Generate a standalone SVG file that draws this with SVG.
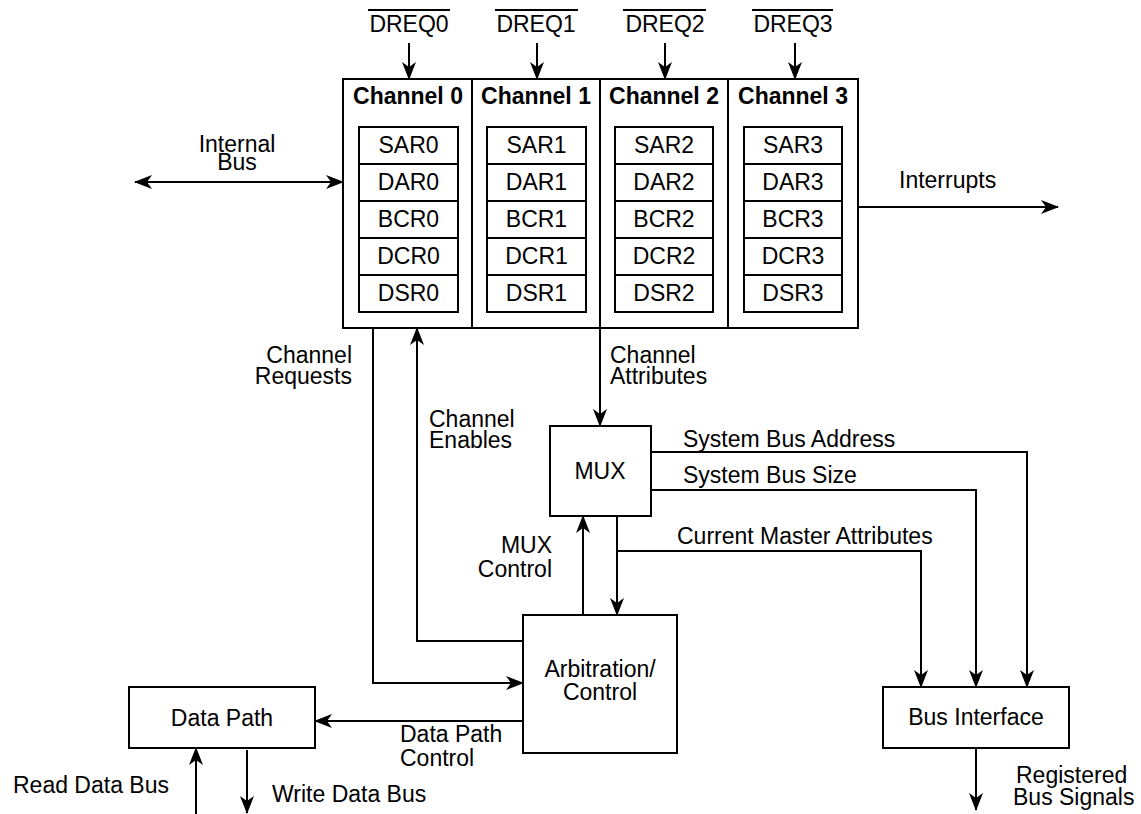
<svg xmlns="http://www.w3.org/2000/svg" width="1141" height="814" viewBox="0 0 1141 814">
<style>
text{font-family:"Liberation Sans",Arial,sans-serif;font-size:23px;fill:#000}
.b{font-weight:bold}
.c{text-anchor:middle}
.r{text-anchor:end}
.box{fill:#fff;stroke:#000;stroke-width:2}
.ln{fill:none;stroke:#000;stroke-width:2}
.w{stroke:#000;stroke-width:2;fill:none}
.a{marker-end:url(#ah)}
</style>
<defs>
<marker id="ah" viewBox="-20 -10 22 20" markerWidth="22" markerHeight="20" refX="0" refY="0" orient="auto-start-reverse" markerUnits="userSpaceOnUse">
<path d="M1,0 L-17,-7 L-12,0 L-17,7 Z" fill="#000"/>
</marker>
</defs>
<rect width="1141" height="814" fill="#fff"/>

<g id="channels">
<rect class="box" x="343" y="79" width="515" height="249"/>
<line class="w" x1="472" y1="79" x2="472" y2="328"/>
<line class="w" x1="600" y1="79" x2="600" y2="328"/>
<line class="w" x1="728" y1="79" x2="728" y2="328"/>
</g>

<g id="channel0">
<text class="b c" x="408" y="104">Channel 0</text>
<rect class="box" x="359" y="127" width="99" height="185"/>
<path class="ln" d="M359,164H458M359,201H458M359,238H458M359,275H458"/>
<text class="c" x="408.5" y="153">SAR0</text>
<text class="c" x="408.5" y="190">DAR0</text>
<text class="c" x="408.5" y="227">BCR0</text>
<text class="c" x="408.5" y="264">DCR0</text>
<text class="c" x="408.5" y="301">DSR0</text>
</g>
<g id="channel1">
<text class="b c" x="536" y="104">Channel 1</text>
<rect class="box" x="487" y="127" width="99" height="185"/>
<path class="ln" d="M487,164H586M487,201H586M487,238H586M487,275H586"/>
<text class="c" x="536.5" y="153">SAR1</text>
<text class="c" x="536.5" y="190">DAR1</text>
<text class="c" x="536.5" y="227">BCR1</text>
<text class="c" x="536.5" y="264">DCR1</text>
<text class="c" x="536.5" y="301">DSR1</text>
</g>
<g id="channel2">
<text class="b c" x="664" y="104">Channel 2</text>
<rect class="box" x="615" y="127" width="98" height="185"/>
<path class="ln" d="M615,164H713M615,201H713M615,238H713M615,275H713"/>
<text class="c" x="664" y="153">SAR2</text>
<text class="c" x="664" y="190">DAR2</text>
<text class="c" x="664" y="227">BCR2</text>
<text class="c" x="664" y="264">DCR2</text>
<text class="c" x="664" y="301">DSR2</text>
</g>
<g id="channel3">
<text class="b c" x="793" y="104">Channel 3</text>
<rect class="box" x="744" y="127" width="98" height="185"/>
<path class="ln" d="M744,164H842M744,201H842M744,238H842M744,275H842"/>
<text class="c" x="793" y="153">SAR3</text>
<text class="c" x="793" y="190">DAR3</text>
<text class="c" x="793" y="227">BCR3</text>
<text class="c" x="793" y="264">DCR3</text>
<text class="c" x="793" y="301">DSR3</text>
</g>

<g id="mux">
<rect class="box" x="550" y="426" width="101" height="90"/>
<text class="c" x="600" y="479">MUX</text>
</g>
<g id="arbitration">
<rect class="box" x="523" y="615" width="154" height="138"/>
<text class="c" x="600" y="677">Arbitration/</text>
<text class="c" x="600" y="700">Control</text>
</g>
<g id="datapath">
<rect class="box" x="129" y="687" width="186" height="61"/>
<text class="c" x="222" y="726">Data Path</text>
</g>
<g id="businterface">
<rect class="box" x="883" y="687" width="186" height="61"/>
<text class="c" x="976" y="725">Bus Interface</text>
</g>

<g id="connectors">
<line class="w a" x1="409" y1="43" x2="409" y2="79"/>
<line class="w a" x1="537" y1="43" x2="537" y2="79"/>
<line class="w a" x1="665" y1="43" x2="665" y2="79"/>
<line class="w a" x1="795" y1="43" x2="795" y2="79"/>
<line class="w a" x1="135" y1="182" x2="343" y2="182" marker-start="url(#ah)"/>
<line class="w a" x1="858" y1="207" x2="1058" y2="207"/>
<path class="ln a" d="M373,328V683H523"/>
<path class="ln a" d="M523,641H417V328"/>
<path class="ln a" d="M600,328V426"/>
<path class="ln a" d="M651,452H1027V687"/>
<path class="ln a" d="M651,490H976V687"/>
<path class="ln a" d="M617,516V615"/>
<path class="ln a" d="M617,551H921V687"/>
<path class="ln a" d="M583,615V516"/>
<path class="ln a" d="M523,721H315"/>
<path class="ln a" d="M196,814V748"/>
<path class="ln a" d="M247,750V813"/>
<path class="ln a" d="M976,748V810"/>
</g>

<g id="labels">
<text class="c" x="409" y="32">DREQ0</text>
<text class="c" x="536" y="32">DREQ1</text>
<text class="c" x="665" y="32">DREQ2</text>
<text class="c" x="793" y="32">DREQ3</text>
<path class="ln" d="M368,10H450M495,10H578M623,10H706M752,10H833"/>
<text class="c" x="237" y="152">Internal</text>
<text class="c" x="237" y="170">Bus</text>
<text x="899" y="188">Interrupts</text>
<text class="r" x="352" y="363">Channel</text>
<text class="r" x="352" y="384">Requests</text>
<text x="610" y="363">Channel</text>
<text x="610" y="384">Attributes</text>
<text x="429" y="427">Channel</text>
<text x="429" y="448">Enables</text>
<text class="r" x="552" y="553">MUX</text>
<text class="r" x="552" y="577">Control</text>
<text x="683" y="447">System Bus Address</text>
<text x="683" y="483">System Bus Size</text>
<text x="677" y="544">Current Master Attributes</text>
<text x="400" y="742">Data Path</text>
<text x="400" y="766">Control</text>
<text x="13" y="793">Read Data Bus</text>
<text x="272" y="802">Write Data Bus</text>
<text x="1016" y="783">Registered</text>
<text x="1013" y="805">Bus Signals</text>
</g>
</svg>
